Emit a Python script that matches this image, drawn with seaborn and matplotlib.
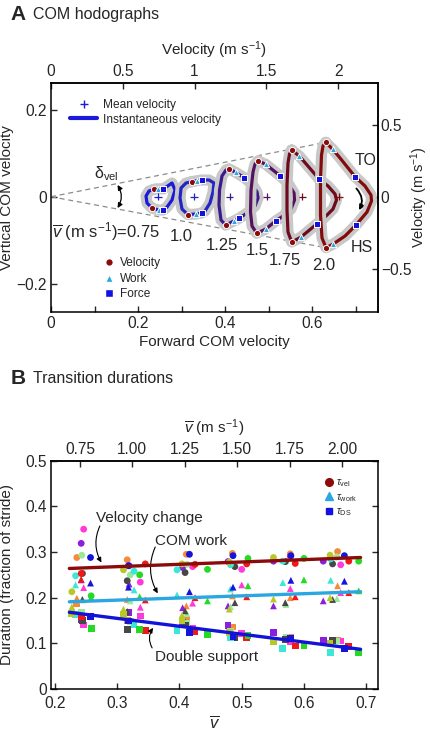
import matplotlib
matplotlib.use("Agg")
import matplotlib.pyplot as plt
from matplotlib.lines import Line2D
import pandas as pd
import seaborn as sns

sns.set_style("ticks")
plt.rcParams['font.family'] = ['Liberation Sans', 'DejaVu Sans']
plt.rcParams['mathtext.fontset'] = 'custom'
plt.rcParams['mathtext.rm'] = 'Liberation Sans'
plt.rcParams['mathtext.it'] = 'Liberation Sans:italic'
plt.rcParams['mathtext.bf'] = 'Liberation Sans:bold'
plt.rcParams['axes.linewidth'] = 1.1
plt.rcParams['axes.edgecolor'] = 'black'

TICK_FS = 11.2
LAB_FS = 11

# ---------------- panel A: COM hodographs ----------------
speed_labels = ['0.75', '1.0', '1.25', '1.5', '1.75', '2.0']
mean_v = [0.246, 0.329, 0.411, 0.496, 0.578, 0.662]
loop_colors = ['#1a1ad8', '#2424c4', '#3c1a8e', '#561060', '#6e0a1e', '#820a0a']

loop_x = [
    [0.2368, 0.2453, 0.2582, 0.2782, 0.2851, 0.2782, 0.2667, 0.2582, 0.2483, 0.2329, 0.2207, 0.2184, 0.2253],
    [0.3234, 0.3349, 0.3464, 0.3632, 0.3747, 0.3724, 0.3655, 0.3540, 0.3464, 0.3333, 0.3143, 0.3011, 0.2966, 0.2989, 0.3103],
    [0.4092, 0.4246, 0.4444, 0.4621, 0.4736, 0.4759, 0.4690, 0.4506, 0.4322, 0.4214, 0.4016, 0.3908, 0.3862, 0.3874, 0.3931, 0.4023],
    [0.4766, 0.4936, 0.5264, 0.5448, 0.5586, 0.5598, 0.5517, 0.5333, 0.5172, 0.4936, 0.4729, 0.4621, 0.4586, 0.4598, 0.4644, 0.4690],
    [0.5533, 0.5708, 0.6168, 0.6368, 0.6529, 0.6563, 0.6483, 0.6276, 0.6108, 0.5740, 0.5533, 0.5448, 0.5425, 0.5425, 0.5448, 0.5483],
    [0.6315, 0.6476, 0.6644, 0.6989, 0.7218, 0.7356, 0.7368, 0.7264, 0.7011, 0.6759, 0.6476, 0.6322, 0.6230, 0.6195, 0.6195, 0.6218, 0.6253],
]
loop_y = [
    [0.0170, 0.0184, 0.0177, 0.0315, 0.0154, -0.0076, -0.0237, -0.0306, -0.0306, -0.0267, -0.0145, 0.0016, 0.0131],
    [0.0345, 0.0368, 0.0384, 0.0384, 0.0315, 0.0108, -0.0145, -0.0329, -0.0375, -0.0398, -0.0409, -0.0283, -0.0030, 0.0200, 0.0315],
    [0.0637, 0.0561, 0.0437, 0.0292, 0.0108, -0.0030, -0.0214, -0.0375, -0.0497, -0.0552, -0.0651, -0.0536, -0.0191, 0.0154, 0.0476, 0.0614],
    [0.0821, 0.0745, 0.0483, 0.0315, 0.0085, -0.0076, -0.0283, -0.0444, -0.0552, -0.0743, -0.0841, -0.0674, -0.0352, 0.0154, 0.0568, 0.0752],
    [0.1074, 0.0936, 0.0400, 0.0246, 0.0062, -0.0076, -0.0283, -0.0490, -0.0628, -0.0933, -0.1041, -0.0811, -0.0306, 0.0269, 0.0775, 0.0982],
    [0.1251, 0.1090, 0.0890, 0.0460, 0.0246, 0.0039, -0.0099, -0.0352, -0.0651, -0.0903, -0.1094, -0.1172, -0.0949, -0.0421, 0.0384, 0.0959, 0.1166],
]
# which loop samples carry the velocity / work / force transition markers
vel_idx = [[0, 9], [0, 10], [0, 10], [0, 10], [0, 10], [0, 11]]
work_idx = [[1, 8], [1, 9], [1, 9], [1, 9], [1, 9], [1, 10]]
force_idx = [[2, 7], [2, 8], [2, 8], [2, 8], [2, 8], [3, 8]]

# ---------------- panel B: transition durations ----------------
subject_colors = ['#f7893a', '#ff3ad9', '#8a1fe0', '#9be89b', '#474747',
                  '#3de6d6', '#f01818', '#25d925', '#b8c828', '#1414dc']
subj_x = [
    [0.235, 0.316, 0.411, 0.485, 0.578, 0.654],
    [0.246, 0.337, 0.421, 0.500, 0.578, 0.659],
    [0.242, 0.319, 0.405, 0.478, 0.551, 0.631],
    [0.243, 0.321, 0.412, 0.482, 0.571, 0.653],
    [0.244, 0.316, 0.409, 0.489, 0.570, 0.646],
    [0.233, 0.327, 0.396, 0.482, 0.566, 0.643],
    [0.242, 0.345, 0.425, 0.508, 0.586, 0.672],
    [0.258, 0.336, 0.445, 0.510, 0.600, 0.688],
    [0.227, 0.310, 0.404, 0.480, 0.551, 0.642],
    [0.257, 0.318, 0.416, 0.486, 0.579, 0.665],
]
tau_vel = [
    [0.288, 0.283, 0.295, 0.297, 0.296, 0.301],
    [0.350, 0.234, 0.268, 0.262, 0.290, 0.272],
    [0.319, 0.270, 0.266, 0.279, 0.280, 0.280],
    [0.293, 0.250, 0.273, 0.275, 0.279, 0.289],
    [0.253, 0.237, 0.255, 0.268, 0.279, 0.274],
    [0.248, 0.258, 0.261, 0.272, 0.280, 0.285],
    [0.253, 0.274, 0.273, 0.274, 0.275, 0.280],
    [0.204, 0.250, 0.262, 0.286, 0.286, 0.280],
    [0.213, 0.261, 0.274, 0.278, 0.288, 0.293],
    [0.288, 0.270, 0.295, 0.292, 0.292, 0.292],
]
tau_work = [
    [0.199, 0.196, 0.182, 0.204, 0.200, 0.226],
    [0.222, 0.179, 0.188, 0.228, 0.220, 0.211],
    [0.239, 0.230, 0.178, 0.182, 0.182, 0.193],
    [0.195, 0.193, 0.165, 0.180, 0.185, 0.198],
    [0.196, 0.170, 0.171, 0.189, 0.189, 0.196],
    [0.228, 0.217, 0.206, 0.219, 0.233, 0.238],
    [0.240, 0.195, 0.200, 0.202, 0.202, 0.211],
    [0.200, 0.202, 0.193, 0.226, 0.239, 0.215],
    [0.180, 0.175, 0.162, 0.175, 0.197, 0.200],
    [0.232, 0.223, 0.213, 0.223, 0.238, 0.236],
]
tau_ds = [
    [0.188, 0.150, 0.150, 0.136, 0.112, 0.107],
    [0.140, 0.160, 0.133, 0.122, 0.104, 0.105],
    [0.152, 0.167, 0.146, 0.139, 0.123, 0.107],
    [0.167, 0.147, 0.143, 0.126, 0.113, 0.105],
    [0.150, 0.131, 0.140, 0.113, 0.109, 0.107],
    [0.164, 0.140, 0.128, 0.113, 0.089, 0.080],
    [0.158, 0.128, 0.126, 0.113, 0.094, 0.093],
    [0.133, 0.131, 0.120, 0.118, 0.096, 0.080],
    [0.165, 0.164, 0.150, 0.123, 0.104, 0.099],
    [0.158, 0.149, 0.124, 0.115, 0.110, 0.089],
]
fit_x = [0.223, 0.691]
fit_vel = [0.264, 0.288]
fit_work = [0.191, 0.213]
fit_ds = [0.168, 0.087]

rows = []
for s, col in enumerate(subject_colors):
    for k in range(6):
        rows.append((subj_x[s][k], tau_vel[s][k], 'vel', col))
        rows.append((subj_x[s][k], tau_work[s][k], 'work', col))
        rows.append((subj_x[s][k], tau_ds[s][k], 'ds', col))
df = pd.DataFrame(rows, columns=['v', 'duration', 'measure', 'subject'])

fig = plt.figure(figsize=(4.3, 7.34), dpi=100)
axA = fig.add_axes([51 / 430, 1 - 312 / 734, 327 / 430, 229 / 734])
axB = fig.add_axes([51 / 430, 1 - 689 / 734, 327 / 430, 228.3 / 734])

# ---- panel A ----
for i in range(6):
    xs = loop_x[i] + [loop_x[i][0]]
    ys = loop_y[i] + [loop_y[i][0]]
    axA.plot(xs, ys, color='#c8c8c8', lw=8, solid_joinstyle='round', zorder=2 + 2 * i)
    axA.plot(xs, ys, color=loop_colors[i], lw=2.3, solid_joinstyle='round', zorder=3 + 2 * i)
    for idx, mk, c in ((vel_idx[i], 'o', '#8b0a0a'), (work_idx[i], '^', '#2aa6e0'),
                       (force_idx[i], 's', '#1212e0')):
        axA.scatter([loop_x[i][j] for j in idx], [loop_y[i][j] for j in idx], marker=mk,
                    s=20, c=c, edgecolors='white', linewidths=0.7, zorder=20)
axA.scatter(mean_v, [0] * 6, marker='+', s=28, c=loop_colors, linewidths=0.9, zorder=20)

axA.plot([0, loop_x[5][0]], [0, loop_y[5][0]], ls=(0, (4, 3)), color='#8c8c8c', lw=0.9, zorder=1)
axA.plot([0, loop_x[5][11]], [0, loop_y[5][11]], ls=(0, (4, 3)), color='#8c8c8c', lw=0.9, zorder=1)
axA.annotate('', xy=(0.153, -0.026), xytext=(0.153, 0.027),
             arrowprops=dict(arrowstyle='<|-|>', color='black', lw=0.9,
                             mutation_scale=7, connectionstyle='arc3,rad=-0.3',
                             shrinkA=0, shrinkB=0))
axA.text(0.128, 0.054, r'$\mathrm{\delta}_{\rm vel}$', fontsize=11.5, ha='center', va='center')

axA.text(0.003, -0.080, r'$\overline{v}$ (m s$^{-1}$)=' + speed_labels[0], fontsize=12,
         ha='left', va='center')
lab_pos = [(0.300, -0.092), (0.392, -0.111), (0.473, -0.1225), (0.538, -0.1455), (0.626, -0.157)]
for (tx, ty), lab in zip(lab_pos, speed_labels[1:]):
    axA.text(tx, ty, lab, fontsize=12, ha='center', va='center')

axA.annotate('TO', xy=(0.703, 0.048), xytext=(0.722, 0.084), fontsize=11.5,
             ha='center', va='center',
             arrowprops=dict(arrowstyle='-', lw=0.8, connectionstyle='arc3,rad=0.5',
                             shrinkA=6, shrinkB=3))
axA.annotate('HS', xy=(0.705, -0.067), xytext=(0.714, -0.117), fontsize=11.5,
             ha='center', va='center',
             arrowprops=dict(arrowstyle='-', lw=0.8, connectionstyle='arc3,rad=-0.5',
                             shrinkA=6, shrinkB=3))
axA.annotate('', xy=(0.708, -0.031), xytext=(0.702, 0.019),
             arrowprops=dict(arrowstyle='-|>', lw=1.3, color='black', mutation_scale=7,
                             connectionstyle='arc3,rad=-0.35', shrinkA=0, shrinkB=0))

axA.set_xlim(0, 0.7517)
axA.set_ylim(-0.265, 0.2614)
axA.set_xticks([0, 0.2, 0.4, 0.6])
axA.set_xticklabels(['0', '0.2', '0.4', '0.6'])
axA.set_xticks([0.1, 0.3, 0.5, 0.7], minor=True)
axA.set_yticks([-0.2, 0, 0.2])
axA.set_yticklabels(['\u22120.2', '0', '0.2'])
axA.tick_params(which='both', direction='in', length=4, width=1, labelsize=TICK_FS, pad=3)
axA.set_xlabel('Forward COM velocity', fontsize=LAB_FS, labelpad=3)
axA.set_ylabel('Vertical COM velocity', fontsize=LAB_FS)
axA.yaxis.set_label_coords(-0.112, 0.5)

topA = axA.secondary_xaxis('top', functions=(lambda x: x * 3.03, lambda v: v / 3.03))
topA.set_xticks([0, 0.5, 1, 1.5, 2])
topA.set_xticklabels(['0', '0.5', '1', '1.5', '2'])
topA.tick_params(direction='in', length=4, width=1, labelsize=TICK_FS, pad=3)
topA.set_xlabel('Velocity (m s$^{-1}$)', fontsize=LAB_FS, labelpad=6)
rightA = axA.secondary_yaxis('right', functions=(lambda x: x * 3.03, lambda v: v / 3.03))
rightA.set_yticks([-0.5, 0, 0.5])
rightA.set_yticklabels(['\u22120.5', '0', '0.5'])
rightA.tick_params(direction='in', length=4, width=1, labelsize=TICK_FS, pad=2)
rightA.set_ylabel('Velocity (m s$^{-1}$)', fontsize=10.5, labelpad=-2)

legA1 = axA.legend(handles=[
    Line2D([], [], ls='none', marker='+', color='#1a1ad8', markersize=6, mew=1),
    Line2D([], [], color='#1a1ad8', lw=3)],
    labels=['Mean velocity', 'Instantaneous velocity'],
    loc='upper left', bbox_to_anchor=(0.045, 0.95), frameon=False, fontsize=8.6,
    handlelength=2.2, handletextpad=0.5, labelspacing=0.2, borderaxespad=0)
axA.add_artist(legA1)
axA.legend(handles=[
    Line2D([], [], ls='none', marker='o', color='#8b0a0a', mec='white', markersize=5.5),
    Line2D([], [], ls='none', marker='^', color='#2aa6e0', mec='white', markersize=6),
    Line2D([], [], ls='none', marker='s', color='#1212e0', mec='white', markersize=5.5)],
    labels=['Velocity', 'Work', 'Force'],
    loc='upper left', bbox_to_anchor=(0.145, 0.26), frameon=False, fontsize=8.6,
    handlelength=1, handletextpad=0.4, labelspacing=0.3, borderaxespad=0)

# ---- panel B ----
sns.scatterplot(data=df, x='v', y='duration', hue='subject', style='measure',
                palette={c: c for c in subject_colors},
                markers={'vel': 'o', 'work': '^', 'ds': 's'},
                s=24, edgecolor='none', legend=False, ax=axB, zorder=3)
axB.plot(fit_x, fit_vel, color='#8b0a0a', lw=2.4, zorder=4)
axB.plot(fit_x, fit_work, color='#2aa6e0', lw=2.4, zorder=4)
axB.plot(fit_x, fit_ds, color='#1212d8', lw=2.4, zorder=4)

axB.text(0.266, 0.374, 'Velocity change', fontsize=LAB_FS, ha='left', va='center')
axB.annotate('', xy=(0.2745, 0.277), xytext=(0.272, 0.357),
             arrowprops=dict(arrowstyle='-|>', lw=0.8, color='black', mutation_scale=7,
                             connectionstyle='arc3,rad=0.25', shrinkA=0, shrinkB=0))
axB.text(0.360, 0.325, 'COM work', fontsize=LAB_FS, ha='left', va='center')
axB.annotate('', xy=(0.365, 0.2095), xytext=(0.361, 0.311),
             arrowprops=dict(arrowstyle='-|>', lw=0.8, color='black', mutation_scale=7,
                             connectionstyle='arc3,rad=0.25', shrinkA=0, shrinkB=0))
axB.text(0.360, 0.0707, 'Double support', fontsize=LAB_FS, ha='left', va='center')
axB.annotate('', xy=(0.3575, 0.134), xytext=(0.356, 0.090),
             arrowprops=dict(arrowstyle='-|>', lw=0.8, color='black', mutation_scale=7,
                             connectionstyle='arc3,rad=-0.3', shrinkA=0, shrinkB=0))

axB.set_xlim(0.1935, 0.719)
axB.set_ylim(0, 0.5)
axB.set_xticks([0.2, 0.3, 0.4, 0.5, 0.6, 0.7])
axB.set_yticks([0, 0.1, 0.2, 0.3, 0.4, 0.5])
axB.set_yticklabels(['0', '0.1', '0.2', '0.3', '0.4', '0.5'])
axB.tick_params(direction='in', length=4, width=1, labelsize=TICK_FS, right=True)
axB.tick_params(axis='x', pad=5)
axB.tick_params(axis='y', pad=3)
axB.set_xlabel(r'$\overline{v}$', fontsize=12, labelpad=2)
axB.set_ylabel('Duration (fraction of stride)', fontsize=LAB_FS)
axB.yaxis.set_label_coords(-0.112, 0.5)

topB = axB.secondary_xaxis('top', functions=(lambda x: (x + 0.0126) / 0.3368,
                                              lambda v: 0.3368 * v - 0.0126))
topB.set_xticks([0.75, 1.0, 1.25, 1.5, 1.75, 2.0])
topB.set_xticklabels(['0.75', '1.00', '1.25', '1.50', '1.75', '2.00'])
topB.tick_params(direction='in', length=4, width=1, labelsize=TICK_FS, pad=3)
topB.set_xlabel(r'$\overline{v}$ (m s$^{-1}$)', fontsize=LAB_FS, labelpad=6)

axB.legend(handles=[
    Line2D([], [], ls='none', marker='o', color='#8b0a0a', markersize=5.5),
    Line2D([], [], ls='none', marker='^', color='#2aa6e0', markersize=5.5),
    Line2D([], [], ls='none', marker='s', color='#1212e0', markersize=4.5)],
    labels=[r'$\tau_{\rm vel}$', r'$\tau_{\rm work}$', r'$\tau_{\rm DS}$'],
    loc='upper right', bbox_to_anchor=(0.95, 0.945), frameon=False, fontsize=7.5,
    handlelength=0.8, handletextpad=0.3, labelspacing=0.25, borderaxespad=0)

fig.text(18 / 430, 1 - 15 / 734, 'A', fontsize=15, fontweight='bold', ha='center', va='center')
fig.text(33 / 430, 1 - 15 / 734, 'COM hodographs', fontsize=11.5, ha='left', va='center')
fig.text(18 / 430, 1 - 378 / 734, 'B', fontsize=15, fontweight='bold', ha='center', va='center')
fig.text(33 / 430, 1 - 378 / 734, 'Transition durations', fontsize=11.5, ha='left', va='center')

fig.savefig('out.png', dpi=100)
